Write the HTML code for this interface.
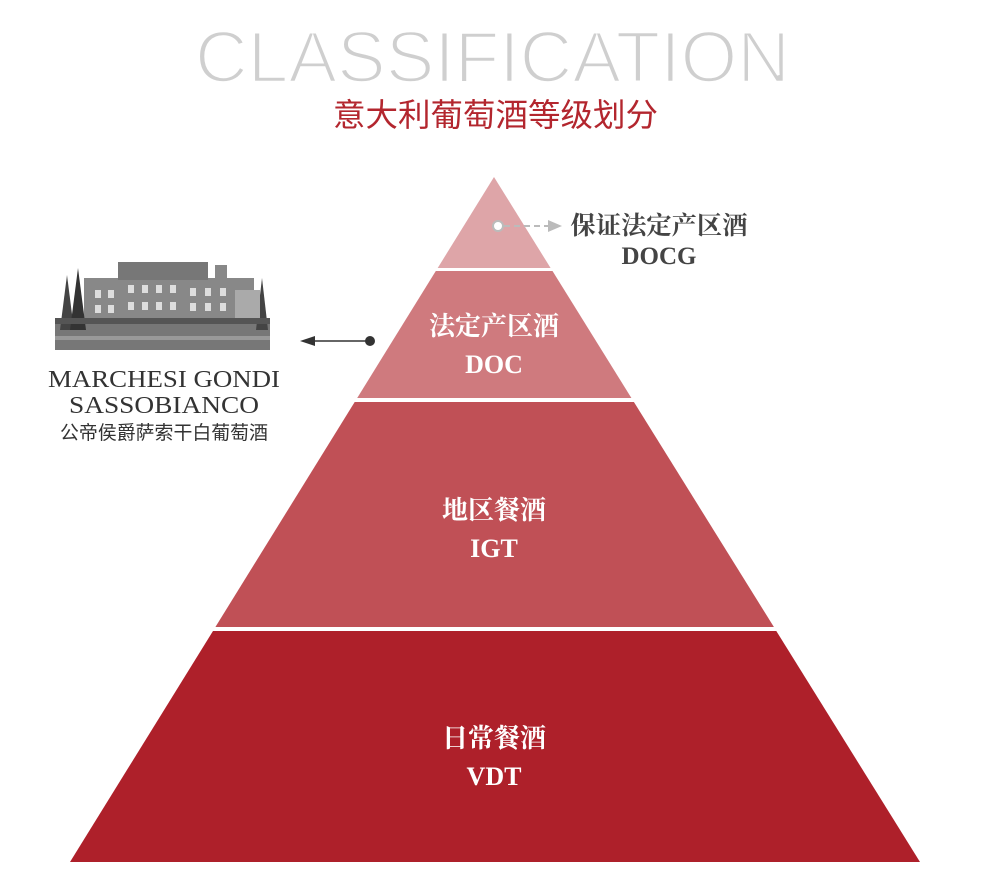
<!DOCTYPE html>
<html><head><meta charset="utf-8"><style>
html,body{margin:0;padding:0;background:#fff;}
svg{display:block}
.s{font-family:"Liberation Serif","Noto Serif CJK SC",serif;font-weight:bold}
</style></head><body>
<svg width="990" height="887" viewBox="0 0 990 887" xmlns="http://www.w3.org/2000/svg">
<text x="195" y="82" font-family="Liberation Sans, sans-serif" font-size="72" fill="#cfcfcf" stroke="#fff" stroke-width="2.6" paint-order="normal" textLength="595" lengthAdjust="spacingAndGlyphs">CLASSIFICATION</text>
<text x="333" y="126" font-family="Liberation Sans, Noto Sans CJK SC, sans-serif" font-size="32" fill="#b3262e" textLength="325" lengthAdjust="spacingAndGlyphs">意大利葡萄酒等级划分</text>

<polygon points="494,177 437.7,268 550.6,268" fill="#dea5a8"/>
<polygon points="435.8,271 552.5,271 631.4,398 357.2,398" fill="#cf7a7e"/>
<polygon points="354.7,402 633.9,402 773.9,627 215.4,627" fill="#c05056"/>
<polygon points="213,631 776.3,631 920,862 70,862" fill="#ae202a"/>

<circle cx="498" cy="226" r="5" fill="#fff" stroke="#bbb" stroke-width="2"/>
<line x1="504" y1="226" x2="552" y2="226" stroke="#bbb" stroke-width="2" stroke-dasharray="6,4"/>
<polygon points="548,220 562,226 548,232" fill="#bbb"/>
<text x="659" y="234" text-anchor="middle" class="s" font-size="25" fill="#444" textLength="177" lengthAdjust="spacingAndGlyphs">保证法定产区酒</text>
<text x="659" y="264" text-anchor="middle" class="s" font-size="25" fill="#444">DOCG</text>

<text x="494" y="335" text-anchor="middle" class="s" font-size="26" fill="#fff">法定产区酒</text>
<text x="494" y="373" text-anchor="middle" class="s" font-size="26" fill="#fff">DOC</text>
<text x="494" y="519" text-anchor="middle" class="s" font-size="26" fill="#fff">地区餐酒</text>
<text x="494" y="557" text-anchor="middle" class="s" font-size="26" fill="#fff">IGT</text>
<text x="494" y="747" text-anchor="middle" class="s" font-size="26" fill="#fff">日常餐酒</text>
<text x="494" y="785" text-anchor="middle" class="s" font-size="26" fill="#fff">VDT</text>

<circle cx="370" cy="341" r="5" fill="#333"/>
<line x1="312" y1="341" x2="370" y2="341" stroke="#333" stroke-width="1.5"/>
<polygon points="300,341 315,336 315,346" fill="#333"/>

<!-- building -->
<g>
<rect x="55" y="318" width="215" height="32" fill="#777"/>
<rect x="84" y="278" width="170" height="42" fill="#888"/>
<rect x="118" y="262" width="90" height="18" fill="#777"/>
<rect x="215" y="265" width="12" height="15" fill="#888"/>
<polygon points="60,330 67,275 74,330" fill="#444"/>
<polygon points="70,330 78,268 86,330" fill="#333"/>
<polygon points="256,330 262,278 268,330" fill="#444"/>
<rect x="235" y="290" width="25" height="30" fill="#aaa"/>
<rect x="55" y="318" width="215" height="6" fill="#555"/>
<rect x="55" y="336" width="215" height="4" fill="#999"/>
</g>
<g fill="#ddd">
<rect x="95" y="290" width="6" height="8"/><rect x="108" y="290" width="6" height="8"/><rect x="128" y="285" width="6" height="8"/><rect x="142" y="285" width="6" height="8"/><rect x="156" y="285" width="6" height="8"/><rect x="170" y="285" width="6" height="8"/><rect x="190" y="288" width="6" height="8"/><rect x="205" y="288" width="6" height="8"/><rect x="220" y="288" width="6" height="8"/>
<rect x="95" y="305" width="6" height="8"/><rect x="108" y="305" width="6" height="8"/><rect x="128" y="302" width="6" height="8"/><rect x="142" y="302" width="6" height="8"/><rect x="156" y="302" width="6" height="8"/><rect x="170" y="302" width="6" height="8"/><rect x="190" y="303" width="6" height="8"/><rect x="205" y="303" width="6" height="8"/><rect x="220" y="303" width="6" height="8"/>
</g>
<text x="164" y="387" text-anchor="middle" font-family="Liberation Serif, serif" font-size="24" fill="#333" textLength="232" lengthAdjust="spacingAndGlyphs">MARCHESI GONDI</text>
<text x="164" y="413" text-anchor="middle" font-family="Liberation Serif, serif" font-size="24" fill="#333" textLength="190" lengthAdjust="spacingAndGlyphs">SASSOBIANCO</text>
<text x="164" y="439" text-anchor="middle" font-family="Liberation Sans, Noto Sans CJK SC, sans-serif" font-size="19" fill="#333" textLength="208" lengthAdjust="spacingAndGlyphs">公帝侯爵萨索干白葡萄酒</text>
</svg>
</body></html>
